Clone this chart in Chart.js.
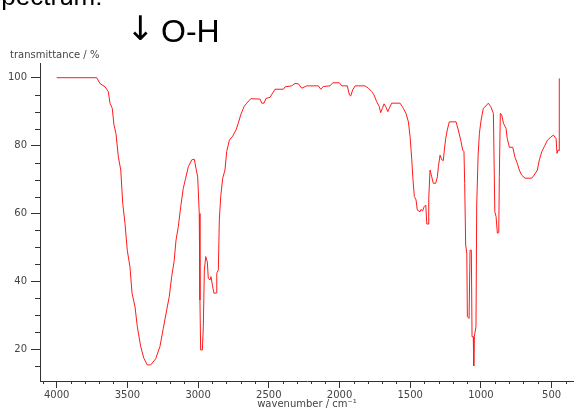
<!DOCTYPE html>
<html>
<head>
<meta charset="utf-8">
<script src="https://cdn.jsdelivr.net/npm/chart.js"></script>
<style>
  html, body { margin: 0; padding: 0; background: #fff; }
  #wrap { position: relative; width: 574px; height: 410px; overflow: hidden; }
  #chart { position: absolute; left: 0; top: 0; }
  .note { position: absolute; font-family: "Liberation Sans", Arial, sans-serif; color: #000; line-height: 1; white-space: nowrap; }
</style>
</head>
<body>
<div id="wrap">
  <canvas id="chart" width="574" height="410"></canvas>
  <div class="note" style="left:-16px; top:-17px; font-size:26px;">Spectrum:</div>
  <div class="note" style="left:126px; top:11px; font-size:34px; font-family:'DejaVu Sans', sans-serif;">↓</div>
  <div class="note" style="left:161px; top:15px; font-size:32px;">O-H</div>
</div>
<script>
// IR spectrum
const wavenumbers = [
  4000, 3717, 3694, 3658, 3635, 3623, 3607, 3595, 3581, 3564, 3547, 3533, 3517, 3501, 3482,
  3467, 3446, 3430, 3406, 3383, 3359, 3335, 3300, 3270, 3246, 3222, 3204, 3187, 3170, 3156,
  3140, 3123, 3105, 3088, 3069, 3045, 3027, 3015, 3003, 2992, 2987, 2982, 2970, 2963, 2956,
  2946, 2935, 2928, 2916, 2909, 2897, 2888, 2873, 2868, 2857, 2850, 2840, 2826, 2810, 2798,
  2779, 2755, 2732, 2716, 2699, 2675, 2656, 2628, 2562, 2550, 2534, 2520, 2492, 2456, 2397,
  2385, 2338, 2315, 2291, 2267, 2232, 2150, 2133, 2115, 2067, 2048, 2001, 1984, 1945, 1930,
  1921, 1907, 1890, 1820, 1796, 1772, 1756, 1737, 1719, 1709, 1697, 1685, 1671, 1659, 1648,
  1631, 1572, 1549, 1530, 1513, 1501, 1489, 1482, 1471, 1459, 1450, 1431, 1424, 1412, 1402,
  1390, 1383, 1374, 1369, 1360, 1348, 1337, 1320, 1308, 1301, 1289, 1277, 1266, 1259, 1249,
  1238, 1224, 1183, 1176, 1160, 1143, 1129, 1120, 1115, 1108, 1100, 1096, 1084, 1077, 1068,
  1063, 1054, 1051, 1047, 1035, 1030, 1020, 1011, 999, 983, 964, 948, 931, 912, 902,
  893, 884, 874, 870, 863, 853, 841, 823, 814, 799, 775, 759, 743, 729, 712,
  688, 641, 624, 601, 587, 570, 552, 530, 511, 488, 469, 462, 455, 448, 446
];
const transmittance = [
  100, 100, 98.3, 97.3, 95.9, 92.5, 91, 86.1, 83.6, 76.7, 72.8, 63, 57.1, 49.2, 44.3,
  36.5, 32.5, 26.7, 20.8, 17.3, 15.4, 15.4, 17.2, 20.8, 26.2, 31.6, 35.5, 41.4, 45.8, 52.2,
  56.1, 62, 67.4, 70.4, 73.8, 75.8, 76, 73.3, 70.8, 60, 34.5, 19.8, 19.8, 26.7, 43.4,
  47.3, 45.8, 40.9, 40.4, 41.4, 38.4, 36.5, 36.6, 42.4, 43.4, 58.1, 65, 70.4, 72.8, 78.2,
  81.6, 82.8, 84.6, 86.6, 89, 91.5, 92.5, 93.8, 93.7, 92.5, 92.5, 93.9, 94.2, 96.6, 96.6,
  97.3, 97.6, 98.3, 98.2, 96.9, 97.6, 97.6, 96.6, 97.4, 97.6, 98.5, 98.5, 97.6, 97.6, 94.9,
  94.6, 96.4, 97.6, 97.6, 96.9, 95.9, 94.9, 92.9, 91.5, 89.7, 91, 92.3, 91.3, 90, 91,
  92.5, 92.5, 91, 89.5, 87, 82.6, 75.8, 70.8, 65, 64, 61, 60.5, 61.2, 60.8, 62,
  62.5, 56.9, 56.9, 64.5, 72.8, 70.8, 68.9, 68.9, 70.8, 73.8, 77.2, 75.8, 75.6, 78.7, 82.1,
  84.6, 87, 87, 87, 84.6, 81.6, 78.7, 78.2, 68.9, 50.7, 48.3, 29.6, 29.1, 49.2, 49.2,
  23.7, 23.7, 15.1, 23.7, 26.7, 62.5, 77.2, 83.6, 87.5, 91, 91.7, 92.5, 91.5, 89.5, 60.5,
  59.1, 54.2, 54.4, 70.8, 89.5, 89, 86.6, 85.1, 82.1, 79.5, 79.5, 76.5, 74.8, 72.8, 71.3,
  70.4, 70.4, 71.3, 72.8, 75.8, 78.2, 79.7, 81.6, 82.3, 83.1, 82.1, 77.7, 78.7, 78.5, 99.8
];

const xMajor = [4000, 3500, 3000, 2500, 2000, 1500, 1000, 500];
const xMinor = [4100, 3900, 3800, 3700, 3600, 3400, 3300, 3200, 3100, 2900, 2800, 2700, 2600,
  2400, 2300, 2200, 2100, 1900, 1800, 1700, 1600, 1400, 1300, 1200, 1100, 900, 800, 700, 600, 400];
const yMajor = [20, 40, 60, 80, 100];
const yMinor = [15, 25, 30, 35, 45, 50, 55, 65, 70, 75, 85, 90, 95];

const axisColor = '#333';
const textColor = '#444';
const fontFamily = '"DejaVu Sans", sans-serif';

const extras = {
  id: 'extras',
  afterDraw(chart) {
    const { ctx, scales: { x, y } } = chart;
    ctx.save();
    ctx.strokeStyle = axisColor;
    ctx.lineWidth = 1;
    ctx.beginPath();
    xMinor.forEach(v => {
      const px = Math.round(x.getPixelForValue(v)) + 0.5;
      ctx.moveTo(px, x.top);
      ctx.lineTo(px, x.top + 3);
    });
    yMinor.forEach(v => {
      const py = Math.round(y.getPixelForValue(v)) + 0.5;
      ctx.moveTo(y.right - 5, py);
      ctx.lineTo(y.right, py);
    });
    ctx.stroke();
    ctx.fillStyle = textColor;
    ctx.font = '10px ' + fontFamily;
    ctx.textAlign = 'left';
    ctx.textBaseline = 'middle';
    ctx.fillText('transmittance / %', 10, 55);
    ctx.restore();
  }
};

new Chart(document.getElementById('chart'), {
  type: 'line',
  data: {
    datasets: [{
      data: wavenumbers.map((w, i) => ({ x: w, y: transmittance[i] })),
      borderColor: '#ff1a1a',
      borderWidth: 1,
      pointRadius: 0,
      tension: 0,
      fill: false
    }]
  },
  options: {
    responsive: false,
    devicePixelRatio: 1,
    animation: false,
    layout: { padding: { top: 63, left: 0, right: 0, bottom: 0 } },
    plugins: { legend: { display: false }, tooltip: { enabled: false } },
    scales: {
      x: {
        type: 'linear',
        reverse: true,
        min: 342,
        max: 4118,
        afterBuildTicks: s => { s.ticks = xMajor.map(v => ({ value: v })); },
        afterFit: s => { s.height = 29; },
        border: { display: true, color: axisColor, width: 1 },
        grid: { drawOnChartArea: false, tickLength: 7, tickColor: axisColor },
        ticks: {
          color: textColor, font: { family: fontFamily, size: 10 }, padding: 1, maxRotation: 0,
          callback: v => String(v)
        },
        title: {
          display: true,
          text: 'wavenumber / cm⁻¹',
          color: textColor,
          font: { family: fontFamily, size: 10 },
          padding: { top: 0, bottom: 0 }
        }
      },
      y: {
        min: 10.66,
        max: 104.33,
        afterBuildTicks: s => { s.ticks = yMajor.map(v => ({ value: v })); },
        afterFit: s => { s.width = 40; },
        border: { display: true, color: axisColor, width: 1 },
        grid: { drawOnChartArea: false, tickLength: 9, tickColor: axisColor },
        ticks: { color: textColor, font: { family: fontFamily, size: 10 }, padding: 4, callback: v => String(v) }
      }
    }
  },
  plugins: [extras]
});
</script>
</body>
</html>
